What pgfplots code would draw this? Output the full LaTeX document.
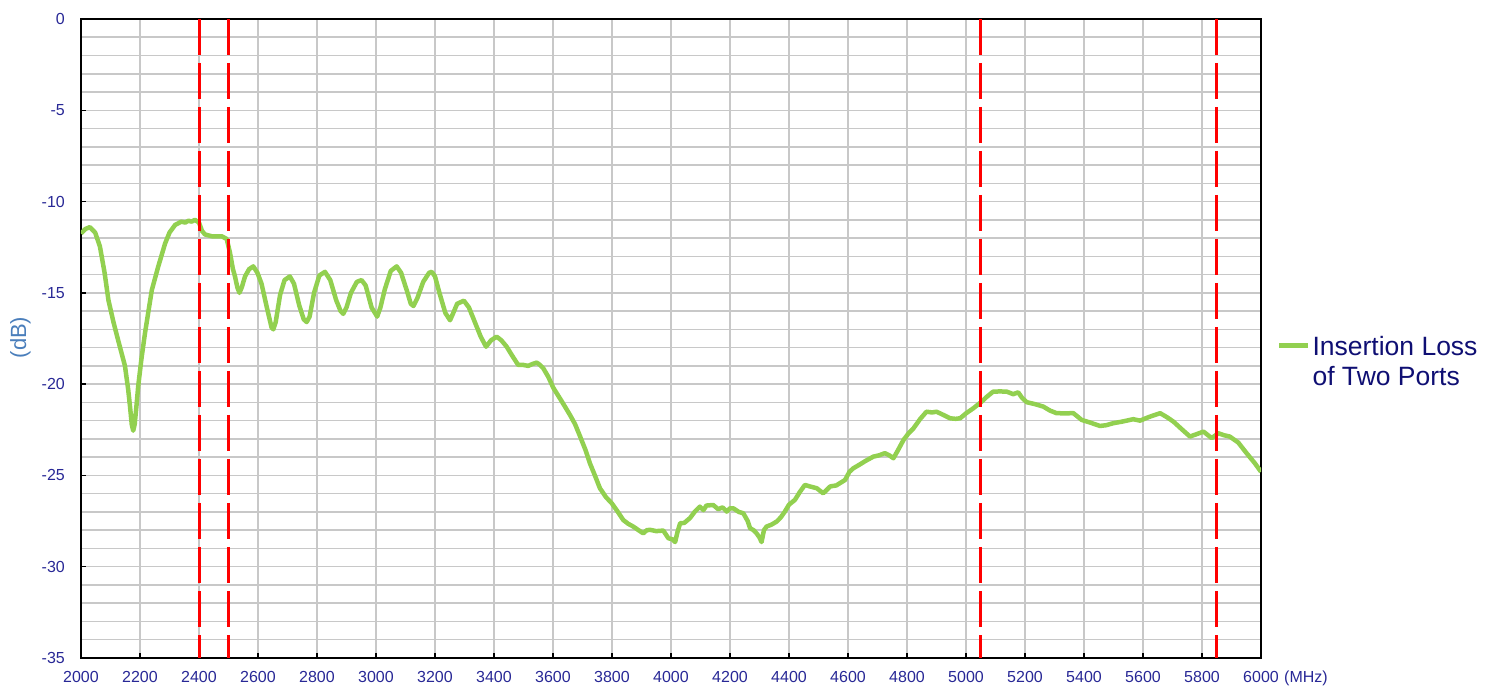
\documentclass[border=0pt]{standalone}
\usepackage{fontspec}
\setmainfont{Liberation Sans}
\usepackage{pgfplots}
\pgfplotsset{compat=1.18}
\definecolor{curvegreen}{RGB}{146,208,80}
\definecolor{gridgray}{RGB}{200,200,200}
\definecolor{tickblue}{RGB}{40,40,150}
\definecolor{legnavy}{RGB}{15,15,115}
\definecolor{dbblue}{RGB}{74,126,187}
\begin{document}
\begin{tikzpicture}
\useasboundingbox (-81pt,-27pt) rectangle (1414pt,658pt);
\begin{axis}[
  name=ax,
  scale only axis,
  width=1180pt, height=639pt,
  xmin=2000, xmax=6000, ymin=-35, ymax=0,
  xtick={2000,2200,2400,2600,2800,3000,3200,3400,3600,3800,4000,4200,4400,4600,4800,5000,5200,5400,5600,5800,6000},
  xticklabels={2000,2200,2400,2600,2800,3000,3200,3400,3600,3800,4000,4200,4400,4600,4800,5000,5200,5400,5600,5800,6000},
  ytick={-35,-30,-25,-20,-15,-10,-5,0},
  yticklabels={-35,-30,-25,-20,-15,-10,-5,0},
  minor y tick num=4,
  grid=both,
  major grid style={draw=gridgray, line width=1.5pt},
  minor grid style={draw=gridgray, line width=1.5pt},
  tick align=inside,
  xtick pos=bottom, ytick pos=left,
  major tick length=5pt, minor tick length=0pt,
  tick style={black, line width=1.5pt},
  axis line style={black, line width=2pt},
  ticklabel style={font=\fontsize{16}{18}\selectfont, text=tickblue, inner sep=0pt},
  xticklabel style={anchor=base, yshift=-24pt},
  yticklabel style={anchor=east, xshift=-16pt},
  ylabel={(dB)},
  ylabel style={at={(axis description cs:-0.0513,0.5016)}, anchor=center, font=\fontsize{22}{24}\selectfont, text=dbblue},
  legend style={at={(axis description cs:1.0136,0.507)}, anchor=north west, draw=none, fill=none,
    inner sep=0pt, outer sep=0pt, column sep=2pt,
    font=\fontsize{26.5}{30}\selectfont, text=legnavy, nodes={inner sep=0pt}},
  legend image code/.code={\draw[#1] (0pt,0pt) -- (29pt,0pt);},
]
\addplot[curvegreen, line width=4.5pt, line join=round] coordinates {
(2000,-11.75)(2015,-11.5)(2030,-11.4)(2048,-11.7)(2064,-12.45)(2080,-13.9)(2093,-15.4)(2110,-16.6)
(2126,-17.6)(2149,-19.0)(2160,-20.3)(2166,-21.2)(2172,-22.2)(2177,-22.55)(2182,-22.2)(2188,-21.2)
(2194,-20.1)(2205,-18.6)(2217,-17.2)(2240,-14.85)(2262,-13.55)(2285,-12.3)(2300,-11.7)(2319,-11.28)
(2340,-11.1)(2353,-11.15)(2365,-11.05)(2375,-11.1)(2386,-11.0)(2400,-11.15)(2410,-11.6)(2420,-11.8)
(2443,-11.9)(2477,-11.9)(2494,-12.05)(2505,-12.8)(2515,-13.7)(2522,-14.1)(2530,-14.7)(2537,-15.0)
(2545,-14.7)(2556,-14.1)(2570,-13.7)(2584,-13.55)(2598,-13.9)(2612,-14.5)(2630,-15.8)(2646,-16.9)
(2652,-17.0)(2660,-16.6)(2675,-15.1)(2690,-14.3)(2708,-14.1)(2722,-14.5)(2740,-15.7)(2755,-16.45)
(2765,-16.6)(2775,-16.3)(2790,-15.0)(2808,-14.05)(2827,-13.85)(2845,-14.3)(2865,-15.4)(2880,-16.0)
(2889,-16.15)(2900,-15.8)(2915,-15.0)(2935,-14.4)(2951,-14.3)(2965,-14.6)(2985,-15.8)(3004,-16.3)
(3015,-15.8)(3030,-14.8)(3050,-13.8)(3070,-13.55)(3085,-13.9)(3105,-14.9)(3118,-15.6)(3127,-15.72)
(3140,-15.3)(3160,-14.4)(3180,-13.9)(3189,-13.85)(3200,-14.1)(3215,-15.0)(3235,-16.1)(3251,-16.5)
(3262,-16.1)(3275,-15.6)(3298,-15.43)(3315,-15.8)(3335,-16.6)(3355,-17.4)(3373,-17.95)(3390,-17.6)
(3409,-17.4)(3425,-17.6)(3443,-17.95)(3460,-18.4)(3482,-18.95)(3500,-18.95)(3516,-19.0)(3530,-18.9)
(3545,-18.82)(3556,-18.95)(3567,-19.13)(3584,-19.6)(3601,-20.2)(3630,-20.95)(3658,-21.7)(3675,-22.2)
(3692,-22.87)(3710,-23.6)(3725,-24.33)(3742,-25.0)(3759,-25.7)(3780,-26.2)(3799,-26.52)(3820,-27.0)
(3838,-27.44)(3855,-27.65)(3872,-27.8)(3890,-28.0)(3906,-28.17)(3918,-28.0)(3929,-27.98)(3950,-28.05)
(3974,-28.02)(3991,-28.44)(4005,-28.5)(4014,-28.65)(4022,-28.1)(4031,-27.62)(4045,-27.6)(4064,-27.34)
(4080,-27.0)(4098,-26.71)(4110,-26.9)(4120,-26.65)(4143,-26.62)(4160,-26.85)(4175,-26.75)(4189,-26.98)
(4200,-26.8)(4211,-26.8)(4230,-27.0)(4245,-27.07)(4260,-27.5)(4268,-27.89)(4280,-28.0)(4290,-28.17)
(4300,-28.4)(4307,-28.65)(4315,-28.0)(4324,-27.8)(4340,-27.7)(4358,-27.53)(4372,-27.3)(4386,-26.98)
(4400,-26.6)(4420,-26.34)(4437,-25.9)(4454,-25.52)(4470,-25.6)(4494,-25.7)(4516,-25.98)(4540,-25.6)
(4560,-25.55)(4590,-25.25)(4605,-24.8)(4618,-24.61)(4640,-24.4)(4660,-24.2)(4686,-23.97)(4705,-23.9)
(4725,-23.78)(4740,-23.9)(4754,-24.06)(4770,-23.6)(4788,-23.06)(4805,-22.7)(4822,-22.42)(4845,-21.9)
(4866,-21.51)(4885,-21.55)(4900,-21.51)(4925,-21.7)(4946,-21.87)(4965,-21.9)(4980,-21.87)(5000,-21.6)
(5025,-21.32)(5053,-20.96)(5070,-20.7)(5092,-20.41)(5115,-20.4)(5138,-20.41)(5160,-20.55)(5177,-20.45)
(5190,-20.75)(5206,-20.99)(5235,-21.1)(5262,-21.23)(5285,-21.45)(5307,-21.59)(5335,-21.6)(5364,-21.59)
(5380,-21.8)(5392,-21.96)(5420,-22.1)(5454,-22.29)(5475,-22.25)(5499,-22.14)(5530,-22.05)(5567,-21.92)
(5590,-22.0)(5620,-21.8)(5658,-21.59)(5680,-21.8)(5703,-22.05)(5730,-22.45)(5759,-22.87)(5780,-22.75)
(5805,-22.6)(5833,-22.96)(5855,-22.69)(5875,-22.8)(5894,-22.87)(5923,-23.2)(5951,-23.78)(5979,-24.33)
(6000,-24.8)
};
\addlegendentry{\begin{tabular}[t]{@{}l@{}}Insertion Loss\\of Two Ports\end{tabular}}
\addplot[red, line width=3pt, dash pattern=on 36pt off 8pt, forget plot] coordinates {(2400,0) (2400,-35)};
\addplot[red, line width=3pt, dash pattern=on 36pt off 8pt, forget plot] coordinates {(2500,0) (2500,-35)};
\addplot[red, line width=3pt, dash pattern=on 36pt off 8pt, forget plot] coordinates {(5050,0) (5050,-35)};
\addplot[red, line width=3pt, dash pattern=on 36pt off 8pt, forget plot] coordinates {(5850,0) (5850,-35)};
\end{axis}
\node[anchor=base west, inner sep=0pt, font=\fontsize{16}{18}\selectfont, text=tickblue] at ([xshift=23pt,yshift=-24pt]ax.south east) {(MHz)};
\end{tikzpicture}
\end{document}
